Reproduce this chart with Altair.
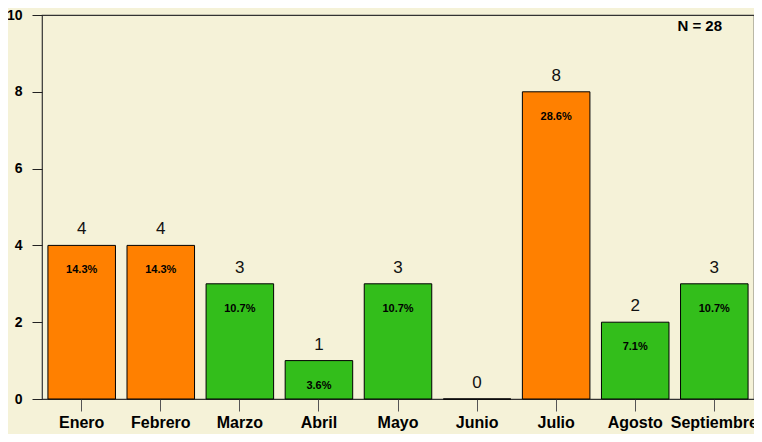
import altair as alt
import pandas as pd

months = ["Enero", "Febrero", "Marzo", "Abril", "Mayo", "Junio", "Julio", "Agosto", "Septiembre"]
counts = [4, 4, 3, 1, 3, 0, 8, 2, 3]
pcts = ["14.3%", "14.3%", "10.7%", "3.6%", "10.7%", "", "28.6%", "7.1%", "10.7%"]
groups = ["alto", "alto", "bajo", "bajo", "bajo", "bajo", "alto", "bajo", "bajo"]
y_ticks = [0, 2, 4, 6, 8, 10]
n_label = "N = 28"

df = pd.DataFrame({"mes": months, "n": counts, "pct": pcts, "grupo": groups})

FONT = "Liberation Sans"
BG = "#F5F2D8"

xenc = alt.X("mes:N", sort=months, title=None,
             scale=alt.Scale(paddingInner=0.146, paddingOuter=0.075),
             axis=alt.Axis(labelAngle=0, labelFontSize=16, labelFontWeight="bold",
                           labelColor="black", labelFont=FONT, tickSize=12,
                           tickColor="#555", labelPadding=3, domain=False))
yscale = alt.Scale(domain=[0, 10], nice=False)

base = alt.Chart(df)

bars = base.mark_bar(stroke="black", strokeWidth=1).encode(
    x=xenc,
    y=alt.Y("n:Q", scale=yscale, title=None,
            axis=alt.Axis(values=y_ticks, labelFontSize=14, labelFontWeight="bold",
                          labelColor="black", labelFont=FONT, tickSize=10,
                          tickColor="#222", labelPadding=10, grid=False, domain=False)),
    color=alt.Color("grupo:N", legend=None,
                    scale=alt.Scale(domain=["alto", "bajo"], range=["#FF8000", "#33BE1B"])),
)

vals = base.mark_text(font=FONT, fontSize=17, color="#111", dy=-11, baseline="alphabetic").encode(
    x=alt.X("mes:N", sort=months), y=alt.Y("n:Q", scale=yscale), text="n:Q")

pct = base.mark_text(font=FONT, fontSize=11, fontWeight="bold", color="black", dy=25,
                     baseline="middle").encode(
    x=alt.X("mes:N", sort=months), y=alt.Y("n:Q", scale=yscale), text="pct:N")

ntext = alt.Chart(pd.DataFrame({"t": [n_label]})).mark_text(
    font=FONT, fontSize=15, fontWeight="bold", color="black", align="right", baseline="middle"
).encode(x=alt.value(680), y=alt.value(11), text="t:N")

chart = (bars + vals + pct + ntext).properties(
    width=712, height=384,
    autosize=alt.AutoSizeParams(type="none"),
    padding={"left": 34, "top": 7, "right": 0, "bottom": 35},
    background=BG,
).configure_view(stroke="#333", strokeWidth=1.2)

chart.save("out.html", embed_options={"renderer": "svg", "actions": False})
